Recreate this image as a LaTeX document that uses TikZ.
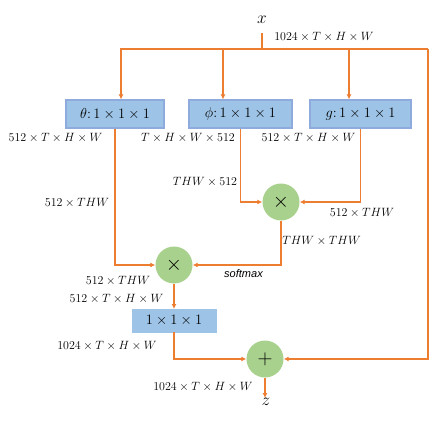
\documentclass[tikz,border=0pt]{standalone}
\usepackage{fontspec}
\newfontfamily\sfx{Liberation Sans}
\usetikzlibrary{arrows.meta}
\definecolor{org}{HTML}{ED7D31}
\definecolor{bfill}{HTML}{9DC3E6}
\definecolor{bdraw}{HTML}{8FAADC}
\definecolor{gfill}{HTML}{A9D18E}
\begin{document}
\begin{tikzpicture}[x=1pt,y=-1pt,
  lab/.style={font=\fontsize{11.5}{13}\selectfont, inner sep=0pt},
  opbox/.style={draw=bdraw, line width=1.2pt, fill=bfill, minimum height=28pt, inner sep=0pt, font=\fontsize{15}{17}\selectfont},
  opcirc/.style={circle, fill=gfill, minimum size=37pt, inner sep=0pt, font=\fontsize{22}{24}\selectfont},
  arr/.style={draw=org, line width=1.4pt, -{Latex[length=5pt,width=5pt]}},
  ln/.style={draw=org, line width=1.4pt}]
\useasboundingbox (0,0) rectangle (436,422);
% nodes
\node[font=\fontsize{18}{20}\selectfont, inner sep=1pt] (xin) at (262,20) {$x$};
\node[opbox, minimum width=98pt] (theta) at (115,114) {$\theta\colon 1\times1\times1$};
\node[opbox, minimum width=103pt] (phi) at (240.5,114) {$\phi\colon 1\times1\times1$};
\node[opbox, minimum width=101pt] (g) at (360.5,114) {$g\colon 1\times1\times1$};
\node[opcirc] (m1) at (281,202) {$\times$};
\node[opcirc] (m2) at (174,265) {$\times$};
\node[opbox, draw=bfill, line width=0pt, minimum width=84pt, minimum height=23pt] (conv) at (174,320.5) {$1\times1\times1$};
\node[opcirc] (plus) at (265,359) {$+$};
\node[font=\fontsize{18}{20}\selectfont, inner sep=0pt, anchor=north] (zout) at (266,398) {$z$};
\coordinate (top) at (262,49);
\coordinate (rt) at (428,49);
% connectors
\draw[ln, shorten <=8pt] (xin.south) -- (top);
\draw[ln] (top) -- (rt);
\draw[arr] (top) -| ([xshift=6pt]theta.north);
\draw[arr] (top) -| ([xshift=-17.5pt]phi.north);
\draw[arr] (top) -| ([xshift=-11.5pt]g.north);
\draw[arr] (rt) |- (plus.east);
\draw[arr] (theta.south) |- (m2.west);
\draw[arr] (phi.south) |- (m1.west);
\draw[arr] (g.south) |- (m1.east);
\draw[arr] (m1.south) |- (m2.east);
\draw[arr] (m2.south) -- (conv.north);
\draw[arr] (conv.south) |- (plus.west);
\draw[arr] (plus.south) -- (plus.south |- zout.north);
% labels
\node[lab] (l1) at (324,37) {$1024\times T\times H\times W$};
\node[lab] (l2) at (55.5,138) {$512\times T\times H\times W$};
\node[lab] (l3) at (188,138) {$T\times H\times W\times 512$};
\node[lab] (l4) at (308.5,138) {$512\times T\times H\times W$};
\node[lab] (l5) at (205,182) {$THW\times 512$};
\node[lab] (l6) at (77,203) {$512\times THW$};
\node[lab] (l7) at (362,213) {$512\times THW$};
\node[lab] (l8) at (321.5,241) {$THW\times THW$};
\node[inner sep=0pt, font=\sfx\itshape\fontsize{11}{13}\selectfont] (l9) at (243.5,274) {softmax};
\node[lab] (l10) at (118,281) {$512\times THW$};
\node[lab] (l11) at (116.5,299) {$512\times T\times H\times W$};
\node[lab] (l12) at (107,346) {$1024\times T\times H\times W$};
\node[lab] (l13) at (203,387) {$1024\times T\times H\times W$};
\end{tikzpicture}
\end{document}
